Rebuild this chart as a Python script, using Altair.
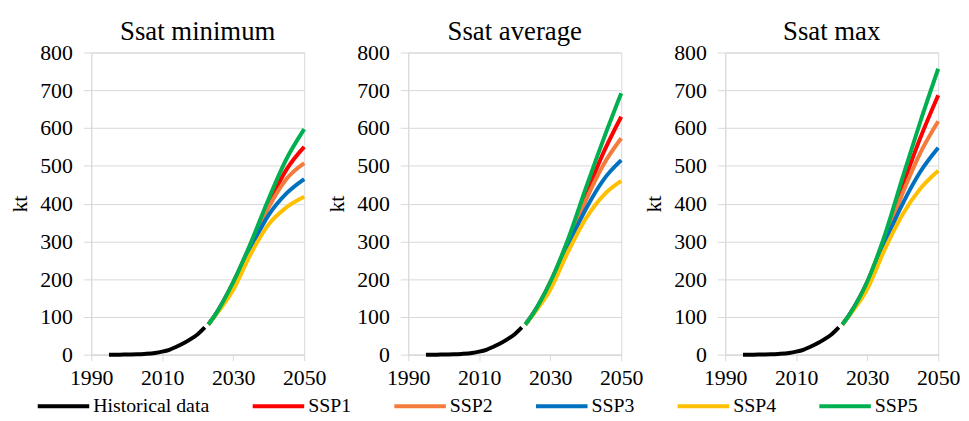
import altair as alt
import pandas as pd

panels = ["Ssat minimum", "Ssat average", "Ssat max"]
series_names = ["Historical data", "SSP1", "SSP2", "SSP3", "SSP4", "SSP5"]
series_colors = ["#000000", "#FF0000", "#F47B3B", "#0070C0", "#FFC000", "#00B050"]

# historical data (same in all panels)
hist_years = [1995, 1998, 2000, 2003, 2005, 2008, 2010, 2012, 2014, 2016, 2018, 2020, 2022]
hist_values = [0, 0, 0.5, 1, 2, 4.5, 8, 13, 21, 30, 41, 54, 72]

# projections
proj_years = [2023, 2025, 2030, 2035, 2040, 2045, 2050]

min_ssp1 = [80, 106, 191, 293, 400, 490, 550]
min_ssp2 = [80, 106, 190, 289, 390, 465, 507]
min_ssp3 = [80, 106, 189, 284, 370, 427, 465]
min_ssp4 = [80, 104, 172, 268, 345, 390, 418]
min_ssp5 = [80, 106, 192, 297, 413, 518, 597]

avg_ssp1 = [80, 106, 191, 300, 422, 535, 630]
avg_ssp2 = [80, 106, 190, 295, 408, 503, 573]
avg_ssp3 = [80, 106, 189, 289, 385, 463, 515]
avg_ssp4 = [80, 104, 172, 272, 360, 422, 460]
avg_ssp5 = [80, 106, 192, 305, 440, 570, 692]

max_ssp1 = [80, 106, 192, 312, 448, 575, 687]
max_ssp2 = [80, 106, 191, 306, 428, 535, 618]
max_ssp3 = [80, 106, 190, 298, 400, 485, 548]
max_ssp4 = [80, 104, 173, 280, 372, 440, 487]
max_ssp5 = [80, 106, 193, 318, 470, 618, 757]

proj = {
    "Ssat minimum": [min_ssp1, min_ssp2, min_ssp3, min_ssp4, min_ssp5],
    "Ssat average": [avg_ssp1, avg_ssp2, avg_ssp3, avg_ssp4, avg_ssp5],
    "Ssat max": [max_ssp1, max_ssp2, max_ssp3, max_ssp4, max_ssp5],
}

rows = []
for p in panels:
    for y, v in zip(hist_years, hist_values):
        rows.append({"panel": p, "series": "Historical data", "year": y, "value": v})
    for name, vals in zip(series_names[1:], proj[p]):
        for y, v in zip(proj_years, vals):
            rows.append({"panel": p, "series": name, "year": y, "value": v})
df = pd.DataFrame(rows)

FONT = "Liberation Serif"


def make_panel(name):
    sub = df[df["panel"] == name]
    return (
        alt.Chart(sub, title=alt.Title(name))
        .mark_line(strokeWidth=4, interpolate="monotone")
        .encode(
            x=alt.X(
                "year:Q",
                scale=alt.Scale(domain=[1990, 2050], nice=False, zero=False),
                axis=alt.Axis(values=[1990, 2010, 2030, 2050], title=None, grid=False,
                              format="d", labelFlush=False, labelOverlap=False,
                              labelPadding=7, tickSize=6),
            ),
            y=alt.Y(
                "value:Q",
                scale=alt.Scale(domain=[0, 800], nice=False),
                axis=alt.Axis(values=list(range(0, 801, 100)), title="kt",
                              labelPadding=11, titlePadding=8),
            ),
            color=alt.Color(
                "series:N",
                scale=alt.Scale(domain=series_names, range=series_colors),
                legend=alt.Legend(
                    orient="none", legendX=-38, legendY=347, direction="horizontal",
                    title=None, symbolType="M-4,0H4", symbolSize=169, symbolStrokeWidth=4,
                    labelFont=FONT, labelFontSize=20, labelColor="black",
                    columnPadding=35, labelOffset=20, padding=0, labelLimit=300,
                ),
            ),
        )
        .properties(width=215, height=305)
    )


chart = (
    alt.hconcat(*[make_panel(p) for p in panels], spacing=105, bounds="flush")
    .properties(padding={"left": 0, "top": 7, "right": 0, "bottom": 0})
    .configure(font=FONT)
    .configure_view(stroke="#d9d9d9", strokeWidth=1)
    .configure_axis(
        labelFont=FONT, labelFontSize=22, labelColor="black",
        titleFont=FONT, titleFontSize=22, titleFontWeight="normal", titleColor="black",
        domainColor="#d9d9d9", tickColor="#d9d9d9", gridColor="#d9d9d9", tickSize=8,
    )
    .configure_title(font=FONT, fontSize=27, fontWeight="normal", color="black",
                     anchor="middle", offset=-4)
)

chart.save("out.html", embed_options={"renderer": "svg", "actions": False})
